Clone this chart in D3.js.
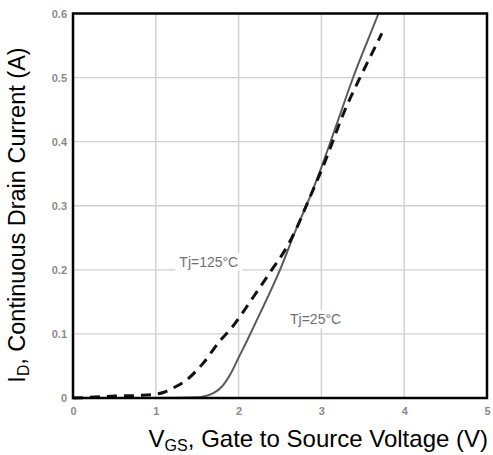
<!DOCTYPE html>
<html>
<head>
<meta charset="utf-8">
<script src="https://cdn.jsdelivr.net/npm/d3@7"></script>
<style>
  html, body { margin: 0; padding: 0; background: #fff; }
  svg { display: block; }
</style>
</head>
<body>
<svg id="chart" width="493" height="455"></svg>
<script>
// Transfer characteristics: drain current vs gate-source voltage
const vgs25 = [0, 0.5, 1.0, 1.5, 1.6, 1.7, 1.8, 1.9, 2.0, 2.1, 2.2, 2.35, 2.5, 2.7, 2.85, 3.0, 3.2, 3.4, 3.55, 3.69];
const id25  = [0, 0, 0, 0.001, 0.003, 0.008, 0.018, 0.037, 0.063, 0.089, 0.116, 0.157, 0.2, 0.265, 0.31, 0.36, 0.433, 0.506, 0.555, 0.6];

const vgs125 = [0, 0.2, 0.5, 0.8, 1.0, 1.1, 1.2, 1.37, 1.57, 1.78, 1.9, 2.18, 2.4, 2.58, 2.7, 2.85, 3.0, 3.31, 3.47, 3.6, 3.73];
const id125  = [0, 0.001, 0.003, 0.004, 0.006, 0.009, 0.015, 0.028, 0.054, 0.09, 0.107, 0.158, 0.2, 0.235, 0.265, 0.31, 0.355, 0.457, 0.501, 0.535, 0.569];

const xTicks = [0, 1, 2, 3, 4, 5];
const yTicks = [0, 0.1, 0.2, 0.3, 0.4, 0.5, 0.6];

const labels = [
  { text: "Tj=125°C", v: 1.64, i: 0.212 },
  { text: "Tj=25°C",  v: 2.93, i: 0.123 }
];

const margin = { left: 73, top: 13.5, right: 6, bottom: 57 };
const W = 493, H = 455;
const svg = d3.select("#chart");

const x = d3.scaleLinear().domain([0, 5]).range([margin.left, W - margin.right]);
const y = d3.scaleLinear().domain([0, 0.6]).range([H - margin.bottom, margin.top]);

// grid
const grid = svg.append("g");
grid.selectAll("line.vx").data(xTicks.slice(1, -1)).enter().append("line")
  .attr("x1", d => x(d)).attr("x2", d => x(d))
  .attr("y1", y(0)).attr("y2", y(0.6))
  .attr("stroke", "#cfcfcf").attr("stroke-width", 1.4);
grid.selectAll("line.hy").data(yTicks.slice(1, -1)).enter().append("line")
  .attr("x1", x(0)).attr("x2", x(5))
  .attr("y1", d => y(d)).attr("y2", d => y(d))
  .attr("stroke", "#cfcfcf").attr("stroke-width", 1.4);

// axes (labels only)
const fmtY = d => d === 0 ? "0" : d3.format(".1f")(d);
const xAxis = svg.append("g").attr("transform", `translate(0,${y(0)})`)
  .call(d3.axisBottom(x).tickValues(xTicks).tickSize(0).tickPadding(9).tickFormat(d3.format("d")));
const yAxis = svg.append("g").attr("transform", `translate(${x(0)},0)`)
  .call(d3.axisLeft(y).tickValues(yTicks).tickSize(0).tickPadding(6).tickFormat(fmtY));
[xAxis, yAxis].forEach(a => {
  a.select(".domain").remove();
  a.selectAll("text").attr("fill", "#8a8a8a").attr("font-size", 11)
    .attr("font-family", "Liberation Sans, Arial, sans-serif").attr("font-weight", "bold");
});

// curve labels with white backing
labels.forEach(l => {
  const g = svg.append("g");
  const t = g.append("text").attr("x", x(l.v)).attr("y", y(l.i))
    .attr("text-anchor", "middle").attr("dy", "0.35em")
    .attr("font-size", 14).attr("fill", "#707070")
    .attr("font-family", "Liberation Sans, Arial, sans-serif")
    .text(l.text);
  const bb = t.node().getBBox();
  g.insert("rect", "text").attr("x", bb.x - 4).attr("y", bb.y - 1)
    .attr("width", bb.width + 8).attr("height", bb.height + 2).attr("fill", "#fff");
});

const line = d3.line().x(d => x(d[0])).y(d => y(d[1])).curve(d3.curveMonotoneX);

svg.append("path").datum(d3.zip(vgs25, id25)).attr("d", line)
  .attr("fill", "none").attr("stroke", "#5a5a5a").attr("stroke-width", 2);
svg.append("path").datum(d3.zip(vgs125, id125)).attr("d", line)
  .attr("fill", "none").attr("stroke", "#111").attr("stroke-width", 3)
  .attr("stroke-dasharray", "10,7");

// frame
svg.append("rect").attr("x", x(0)).attr("y", y(0.6))
  .attr("width", x(5) - x(0)).attr("height", y(0) - y(0.6))
  .attr("fill", "none").attr("stroke", "#000").attr("stroke-width", 2.5);

// axis titles (main symbol, lowered subscript, rest)
function title(sel, sym, sub, rest, size) {
  sel.append("tspan").text(sym);
  sel.append("tspan").attr("font-size", size * 0.67).attr("dy", size * 0.15).text(sub);
  sel.append("tspan").attr("dy", -size * 0.15).text(rest);
}

const xt = svg.append("text").attr("x", 488).attr("y", 447).attr("text-anchor", "end")
  .attr("font-size", 24).attr("fill", "#000").attr("font-family", "Liberation Sans, Arial, sans-serif");
title(xt, "V", "GS", ", Gate to Source Voltage (V)", 24);

const yt = svg.append("text").attr("transform", `translate(25,215) rotate(-90)`)
  .attr("text-anchor", "middle")
  .attr("font-size", 23.5).attr("fill", "#000").attr("font-family", "Liberation Sans, Arial, sans-serif");
title(yt, "I", "D", ", Continuous Drain Current (A)", 23.5);
</script>
</body>
</html>
